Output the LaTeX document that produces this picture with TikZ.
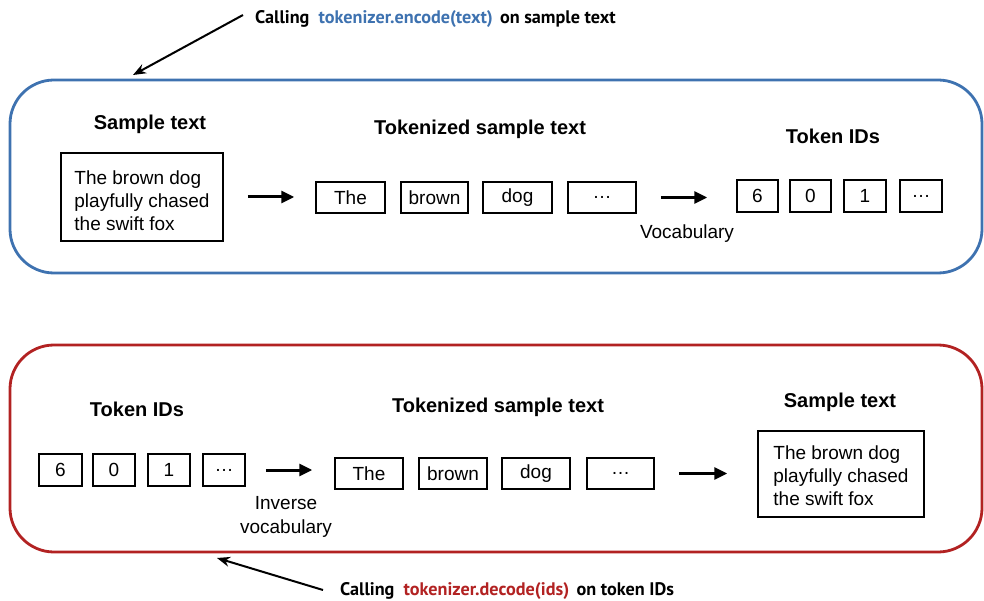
\documentclass[tikz,border=0pt]{standalone}
\usepackage{fontspec}
\setmainfont{Liberation Sans}
\newfontfamily\callfont{PT Sans}
\usetikzlibrary{arrows.meta}

\definecolor{encblue}{RGB}{62,114,176}
\definecolor{decred}{RGB}{178,34,34}

\tikzset{
  panel/.style={rounded corners=44bp, line width=2.8bp, minimum width=972bp, inner sep=0pt},
  title/.style={font=\bfseries\fontsize{20bp}{23bp}\selectfont, inner sep=0pt},
  plain/.style={font=\fontsize{19bp}{24bp}\selectfont, inner sep=0pt, align=center},
  tokbox/.style={draw, line width=1.5bp, minimum height=31bp, inner sep=0pt,
                 font=\fontsize{19bp}{23bp}\selectfont},
  textbox/.style={draw, line width=1.5bp, inner sep=0pt, align=left,
                  font=\fontsize{19bp}{23bp}\selectfont},
  flow/.style={line width=3bp, -{Triangle[length=13bp,width=12bp]}},
  callout/.style={font=\callfont\bfseries\fontsize{18.2bp}{20bp}\selectfont, inner sep=0pt, anchor=west},
  pointer/.style={line width=2bp, -{Stealth[length=13bp,width=10bp]}}
}
% first line padded so the three lines sit a little low in their box
\newcommand{\samplelines}[1]{\rule{0pt}{#1}The brown dog\\playfully chased\\the swift fox}

\begin{document}
\begin{tikzpicture}[x=1bp, y=-1bp]
  \useasboundingbox (0,0) rectangle (984,601);

  % ---------- encoding panel ----------
  \node[panel, draw=encblue, minimum height=193bp] (encpanel) at (496,176.5) {};

  \node[callout] (callenc) at (255,19)
    {Calling\hspace{0.5em}\textcolor{encblue}{tokenizer.encode(text)}\hspace{0.4em}on sample text};
  \coordinate (encTip) at (133,75);
  \draw[pointer] ([shift={(-12bp,4bp)}]callenc.west) -- (encTip);

  \node[title] (encTitleA) at (150,124) {Sample text};
  \node[textbox, minimum width=162bp, minimum height=88bp] (encText) at (142,197)
    {\samplelines{21bp}};

  \node[title] (encTitleB) at (480,129) {Tokenized sample text};
  \node[tokbox, minimum width=69bp] (eThe)   at (350.5,197.5) {The};
  \node[tokbox, minimum width=67bp] (eBrown) at (434.5,197.5) {brown};
  \node[tokbox, minimum width=69bp] (eDog)   at (517.5,197.5) {dog};
  \node[tokbox, minimum width=68bp] (eDots)  at (602,197.5)   {\dots};

  \node[title] (encTitleC) at (833,136) {Token IDs};
  \node[tokbox, minimum width=41bp, minimum height=32bp] (eSix)  at (757.5,196) {6};
  \node[tokbox, minimum width=41bp, minimum height=32bp] (eZero) at (810.5,196) {0};
  \node[tokbox, minimum width=42bp, minimum height=32bp] (eOne)  at (865,196)   {1};
  \node[tokbox, minimum width=42bp, minimum height=32bp] (eIds)  at (921,196)   {\dots};

  \draw[flow] ([xshift=24bp]encText.east) -- ([xshift=-21bp]encText.east -| eThe.west);
  \draw[flow] ([xshift=24bp]eDots.east) -- ([xshift=-29bp]eDots.east -| eSix.west);
  \node[plain] (vocab) at (687,234) {Vocabulary};

  % ---------- decoding panel ----------
  \node[panel, draw=decred, minimum height=207bp] (decpanel) at (496,448.5) {};

  \node[callout] (calldec) at (340,591)
    {Calling\hspace{0.5em}\textcolor{decred}{tokenizer.decode(ids)}\hspace{0.4em}on token IDs};
  \coordinate (decTip) at (217,558);
  \draw[pointer] ([shift={(-17bp,1bp)}]calldec.west) -- (decTip);

  \node[title] (decTitleA) at (137,409) {Token IDs};
  \node[tokbox, minimum width=43bp, minimum height=32bp] (dSix)  at (60.5,470) {6};
  \node[tokbox, minimum width=42bp, minimum height=32bp] (dZero) at (114,470)  {0};
  \node[tokbox, minimum width=42bp, minimum height=32bp] (dOne)  at (169,470)  {1};
  \node[tokbox, minimum width=42bp, minimum height=32bp] (dIds)  at (224,470)  {\dots};

  \node[title] (decTitleB) at (498,407) {Tokenized sample text};
  \node[tokbox, minimum width=68bp] (dThe)   at (369,473.5)   {The};
  \node[tokbox, minimum width=68bp] (dBrown) at (453,473.5)   {brown};
  \node[tokbox, minimum width=68bp] (dDog)   at (536,473.5)   {dog};
  \node[tokbox, minimum width=67bp] (dDots)  at (620.5,473.5) {\dots};

  \node[title] (decTitleC) at (840,402) {Sample text};
  \node[textbox, minimum width=166bp, minimum height=86bp] (decText) at (841,474)
    {\samplelines{18bp}};

  \draw[flow] ([xshift=20bp]dIds.east) -- ([xshift=-22bp]dIds.east -| dThe.west);
  \draw[flow] ([xshift=24bp]dDots.east) -- ([xshift=-30bp]dDots.east -| decText.west);
  \node[plain] (invvocab) at (286,517) {Inverse\\vocabulary};
\end{tikzpicture}
\end{document}
